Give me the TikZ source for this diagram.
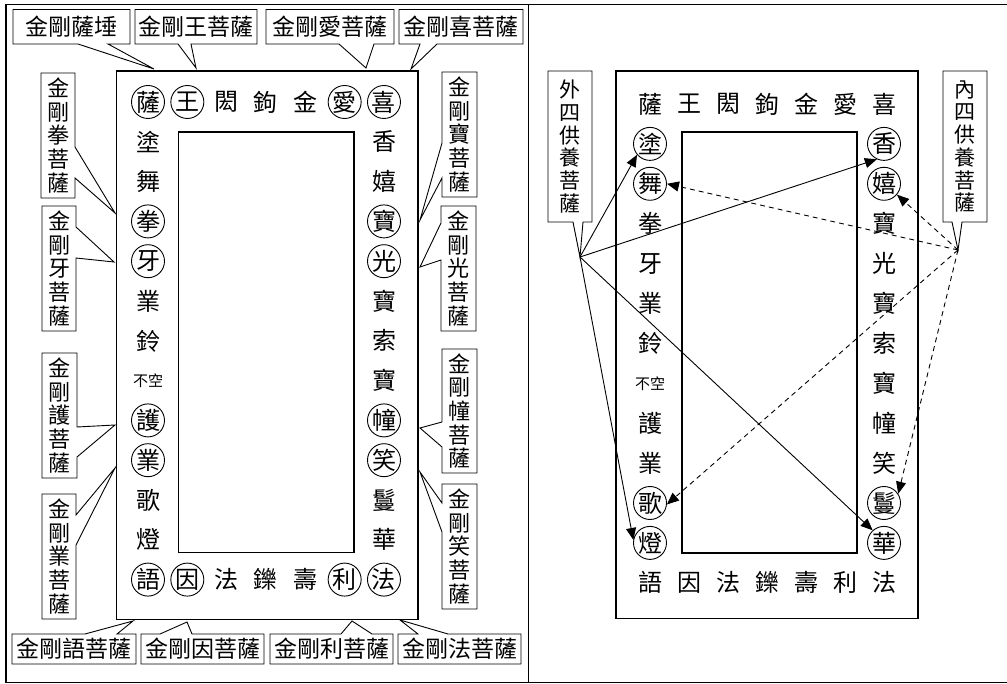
\documentclass[tikz,border=0pt]{standalone}
\usepackage{fontspec}
\newfontfamily\cjk{Noto Sans CJK TC}
\usetikzlibrary{arrows.meta}
\tikzset{
  gc/.style={circle, line width=0.9pt, minimum size=33pt, inner sep=0pt, font=\cjk\fontsize{24}{24}\selectfont},
  sm/.style={inner sep=0pt, font=\cjk\fontsize{15}{15}\selectfont},
  frm/.style={draw, line width=1.8pt},
  co/.style={draw, line width=0.9pt, fill=white, line join=miter},
  vl/.style={inner sep=0pt, align=center, font=\cjk\fontsize{22}{23.7}\selectfont},
  vw/.style={inner sep=0pt, align=center, font=\cjk\fontsize{21}{22.7}\selectfont},
  hl/.style={inner sep=0pt, font=\cjk\fontsize{23}{23}\selectfont},
  sol/.style={line width=0.9pt, -{Triangle[length=12pt,width=10pt]}},
  dsh/.style={sol, dash pattern=on 5pt off 4pt},
  tbl/.style={line width=1.4pt}
}
\begin{document}
\begin{tikzpicture}[x=1pt,y=-1pt]
\useasboundingbox (0,0) rectangle (1007,684);
% table
\draw[tbl] (6,682.5) -- (6,4.5) -- (1007,4.5);
\draw[tbl] (528.5,4.5) -- (528.5,682.5);
\draw[tbl] (6,682.5) -- (1007,682.5);

% ---------------- left panel ----------------
\draw[frm] (116.5,71) rectangle (418,619.5);
\draw[frm] (178.5,132) rectangle (354,552.5);

\foreach \c/\d [count=\i] in {薩/black,王/black,閎/none,鉤/none,金/none,愛/black,喜/black}
  \node[gc,draw=\d] (LT\i) at ({148+(\i-1)*39.33},102) {\c};
\foreach \c/\d [count=\i] in {語/black,因/black,法/none,鑠/none,壽/none,利/black,法/black}
  \node[gc,draw=\d] (LB\i) at ({148+(\i-1)*39.33},579.6) {\c};
\foreach \c/\d [count=\i] in {塗/none,舞/none,拳/black,牙/black,業/none,鈴/none}
  \node[gc,draw=\d] (LL\i) at (148,{102+\i*39.8}) {\c};
\node[sm] (LL7) at (148,{102+7*39.8}) {不空};
\foreach \c/\d [count=\i from 8] in {護/black,業/black,歌/none,燈/none}
  \node[gc,draw=\d] (LL\i) at (148,{102+\i*39.8}) {\c};
\foreach \c/\d [count=\i] in {香/none,嬉/none,寶/black,光/black,寶/none,索/none,寶/none,幢/black,笑/black,鬘/none,華/none}
  \node[gc,draw=\d] (LR\i) at (384,{102+\i*39.8}) {\c};

% top callouts
\coordinate (pSa) at (154,69);
\draw[co] (13,9.5) -- (130,9.5) -- (130,44) -- (108,44) -- (pSa) -- (78,44) -- (13,44) -- cycle;
\node[hl] (cSa) at (71.5,27) {金剛薩埵};
\coordinate (pWang) at (196,68);
\draw[co] (135,9.5) -- (257,9.5) -- (257,44) -- (191,44) -- (pWang) -- (178,44) -- (135,44) -- cycle;
\node[hl] (cWang) at (196,27) {金剛王菩薩};
\coordinate (pAi) at (366,68);
\draw[co] (266,9.5) -- (394,9.5) -- (394,44) -- (374,44) -- (pAi) -- (339,44) -- (266,44) -- cycle;
\node[hl] (cAi) at (330,27) {金剛愛菩薩};
\coordinate (pXi) at (411,69);
\draw[co] (399,9.5) -- (523,9.5) -- (523,44) -- (437,44) -- (pXi) -- (420,44) -- (399,44) -- cycle;
\node[hl] (cXi) at (461,27) {金剛喜菩薩};

% left callouts
\coordinate (pQuan) at (115,213);
\draw[co] (41,73) -- (75,73) -- (75,147) -- (pQuan) -- (75,178) -- (75,198) -- (41,198) -- cycle;
\node[vl] (cQuan) at (58,135.5) {金\\剛\\拳\\菩\\薩};
\coordinate (pYa) at (114,262);
\draw[co] (42,206) -- (76,206) -- (76,227) -- (pYa) -- (76,258) -- (76,331) -- (42,331) -- cycle;
\node[vl] (cYa) at (59,268.5) {金\\剛\\牙\\菩\\薩};
\coordinate (pHu) at (115,425);
\draw[co] (42,353) -- (77,353) -- (77,427) -- (pHu) -- (77,457) -- (77,478) -- (42,478) -- cycle;
\node[vl] (cHu) at (59.5,415.5) {金\\剛\\護\\菩\\薩};
\coordinate (pYe) at (115,468);
\draw[co] (42,494) -- (76,494) -- (76,515) -- (pYe) -- (76,545) -- (76,619) -- (42,619) -- cycle;
\node[vl] (cYe) at (59,556.5) {金\\剛\\業\\菩\\薩};

% right callouts
\coordinate (pBao) at (420,220);
\draw[co] (442,72) -- (477,72) -- (477,197) -- (442,197) -- (442,178) -- (pBao) -- (442,143) -- cycle;
\node[vl] (cBao) at (459.5,134.5) {金\\剛\\寶\\菩\\薩};
\coordinate (pGuang) at (420,267);
\draw[co] (441,206) -- (476,206) -- (476,331) -- (441,331) -- (441,260) -- (pGuang) -- (441,223) -- cycle;
\node[vl] (cGuang) at (458.5,268.5) {金\\剛\\光\\菩\\薩};
\coordinate (pChuang) at (420,428);
\draw[co] (442,349) -- (477,349) -- (477,473) -- (442,473) -- (442,447) -- (pChuang) -- (442,422) -- cycle;
\node[vl] (cChuang) at (459.5,411) {金\\剛\\幢\\菩\\薩};
\coordinate (pXiao) at (420,472);
\draw[co] (442,484) -- (477,484) -- (477,609) -- (442,609) -- (442,532) -- (pXiao) -- (442,503) -- cycle;
\node[vl] (cXiao) at (459.5,546.5) {金\\剛\\笑\\菩\\薩};

% bottom callouts
\coordinate (pYu) at (133,621);
\draw[co] (12,634) -- (85,634) -- (pYu) -- (117,634) -- (136,634) -- (136,664) -- (12,664) -- cycle;
\node[hl] (cYu) at (74,649) {金剛語菩薩};
\coordinate (pYin) at (187,622);
\draw[co] (141,634) -- (160,634) -- (pYin) -- (192,634) -- (264,634) -- (264,664) -- (141,664) -- cycle;
\node[hl] (cYin) at (202.5,649) {金剛因菩薩};
\coordinate (pLi) at (352,621);
\draw[co] (270,634) -- (341,634) -- (pLi) -- (372,634) -- (393,634) -- (393,664) -- (270,664) -- cycle;
\node[hl] (cLi) at (331.5,649) {金剛利菩薩};
\coordinate (pFa) at (400,620);
\draw[co] (398,634) -- (418,634) -- (pFa) -- (448,634) -- (521,634) -- (521,664) -- (398,664) -- cycle;
\node[hl] (cFa) at (459.5,649) {金剛法菩薩};

% ---------------- right panel ----------------
\draw[frm] (616,71) rectangle (918,618.5);
\draw[frm] (682,132) rectangle (857,553);

\foreach \c [count=\i] in {薩,王,閎,鉤,金,愛,喜}
  \node[gc] (RT\i) at ({650+(\i-1)*39},104) {\c};
\foreach \c [count=\i] in {語,因,法,鑠,壽,利,法}
  \node[gc] (RB\i) at ({650+(\i-1)*39},582.8) {\c};
\foreach \c/\d [count=\i] in {塗/black,舞/black,拳/none,牙/none,業/none,鈴/none}
  \node[gc,draw=\d] (RL\i) at (650,{104+\i*39.9}) {\c};
\node[sm] (RL7) at (650,{104+7*39.9}) {不空};
\foreach \c/\d [count=\i from 8] in {護/none,業/none,歌/black,燈/black}
  \node[gc,draw=\d] (RL\i) at (650,{104+\i*39.9}) {\c};
\foreach \c/\d [count=\i] in {香/black,嬉/black,寶/none,光/none,寶/none,索/none,寶/none,幢/none,笑/none,鬘/black,華/black}
  \node[gc,draw=\d] (RR\i) at (884,{104+\i*39.9}) {\c};

\coordinate (ptA) at (580,257);
\draw[co] (548,71) -- (592,71) -- (592,222) -- (583,222) -- (ptA) -- (573,222) -- (548,222) -- cycle;
\node[vw] (cWai) at (570,146.5) {外\\四\\供\\養\\菩\\薩};
\coordinate (ptB) at (958,250);
\draw[co] (943,71) -- (987,71) -- (987,222) -- (962,222) -- (ptB) -- (952,222) -- (943,222) -- cycle;
\node[vw] (cNei) at (965,146.5) {內\\四\\供\\養\\菩\\薩};

\draw[sol] (ptA) -- (RL1.220);
\draw[sol] (ptA) -- (RR1.245);
\draw[sol] (ptA) -- (RR11.132);
\draw[sol] (ptA) -- (RL11.170);
\draw[dsh] (ptB) -- (RR2.320);
\draw[dsh] (ptB) -- (RL2.0);
\draw[dsh] (ptB) -- (RL10.-5);
\draw[dsh] (ptB) -- (RR10.33);
\end{tikzpicture}
\end{document}
